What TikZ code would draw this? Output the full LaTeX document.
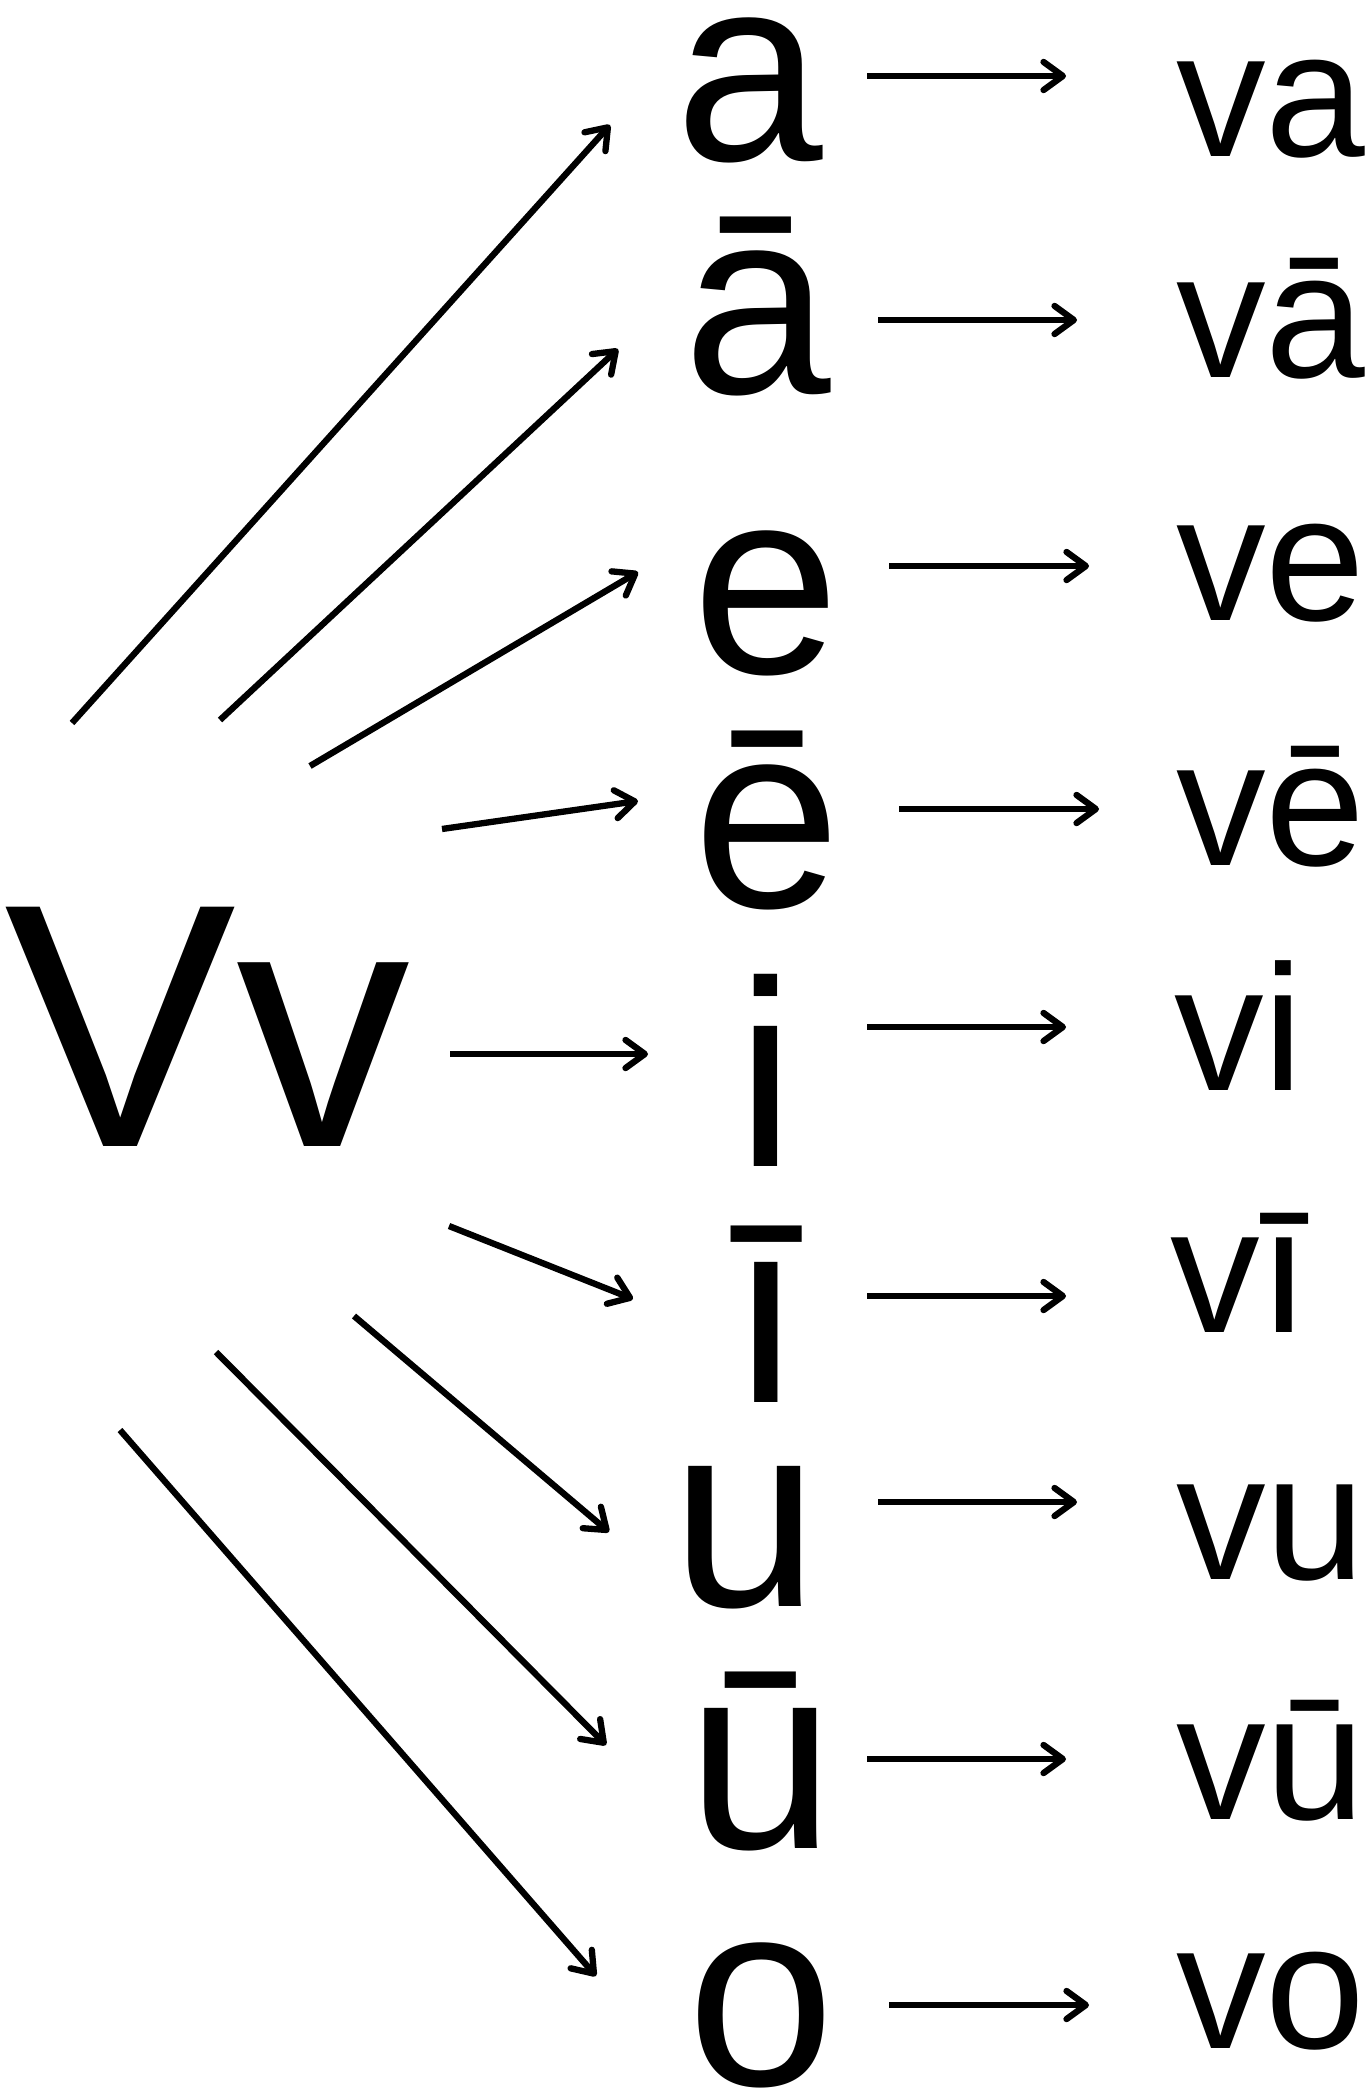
\documentclass[tikz,border=0pt]{standalone}
\usepackage{fontspec}
\setmainfont{Liberation Sans}
\usepackage{tikz}
\usetikzlibrary{arrows.meta, calc}

\begin{document}
\begin{tikzpicture}[
  x=0.02cm, y=-0.02cm,
  >={Straight Barb[length=11pt, width=16pt, round]},
  every node/.style={inner sep=0pt},
  big/.style={font=\fontsize{198}{198}\selectfont, anchor=base west},
  vowel/.style={font=\fontsize{151}{151}\selectfont, anchor=base},
  syl/.style={font=\fontsize{102}{102}\selectfont, anchor=base west},
  edge/.style={->, line width=3.6pt}
]
  \useasboundingbox (0,0) rectangle (1367,2089);

  \node[big] (Vv) at (4,1146) {Vv};

  \node[vowel] (a)  at (749,160)  {a};
  \node[vowel] (aa) at (757,393)  {ā};
  \node[vowel] (e)  at (766,673)  {e};
  \node[vowel] (ee) at (767,907)  {ē};
  \node[vowel] (i)  at (766,1166) {i};
  \node[vowel] (ii) at (766,1402) {ī};
  \node[vowel] (u)  at (745,1606) {u};
  \node[vowel] (uu) at (761,1848) {ū};
  \node[vowel] (o)  at (761,2085) {o};

  \node[syl] (va)  at (1176,156)  {va};
  \node[syl] (vaa) at (1176,377)  {vā};
  \node[syl] (ve)  at (1176,620)  {ve};
  \node[syl] (vee) at (1176,865)  {vē};
  \node[syl] (vi)  at (1174,1090) {vi};
  \node[syl] (vii) at (1170,1332) {vī};
  \node[syl] (vu)  at (1176,1579) {vu};
  \node[syl] (vuu) at (1176,1819) {vū};
  \node[syl] (vo)  at (1176,2048) {vo};

  % tails of the fan around Vv
  \coordinate (ta)  at (72,723);
  \coordinate (taa) at (220,720);
  \coordinate (te)  at (310,766);
  \coordinate (tee) at (442,829);
  \coordinate (ti)  at (450,1054);
  \coordinate (tii) at (449,1226);
  \coordinate (tu)  at (354,1316);
  \coordinate (tuu) at (216,1352);
  \coordinate (to)  at (120,1430);

  \draw[edge] (ta)  -- ($(a.base)+(-139,-35)$);
  \draw[edge] (taa) -- ($(aa.base)+(-139,-44)$);
  \draw[edge] (te)  -- ($(e.base)+(-128,-101)$);
  \draw[edge] (tee) -- ($(ee.base)+(-129,-106)$);
  \draw[edge] (ti)  -- ($(i.base)+(-118,-112)$);
  \draw[edge] (tii) -- ($(ii.base)+(-133,-103)$);
  \draw[edge] (tu)  -- ($(u.base)+(-136,-74)$);
  \draw[edge] (tuu) -- ($(uu.base)+(-155,-103)$);
  \draw[edge] (to)  -- ($(o.base)+(-165,-109)$);

  \draw[edge] ($(a.base)+(118,-84)$)   -- ($(va.base west)+(-110,-80)$);
  \draw[edge] ($(aa.base)+(121,-73)$)  -- ($(vaa.base west)+(-99,-57)$);
  \draw[edge] ($(e.base)+(123,-107)$)  -- ($(ve.base west)+(-87,-54)$);
  \draw[edge] ($(ee.base)+(132,-98)$)  -- ($(vee.base west)+(-77,-56)$);
  \draw[edge] ($(i.base)+(101,-139)$)  -- ($(vi.base west)+(-108,-63)$);
  \draw[edge] ($(ii.base)+(101,-106)$) -- ($(vii.base west)+(-104,-36)$);
  \draw[edge] ($(u.base)+(133,-104)$)  -- ($(vu.base west)+(-99,-77)$);
  \draw[edge] ($(uu.base)+(106,-89)$)  -- ($(vuu.base west)+(-110,-60)$);
  \draw[edge] ($(o.base)+(128,-80)$)   -- ($(vo.base west)+(-87,-43)$);
\end{tikzpicture}
\end{document}
